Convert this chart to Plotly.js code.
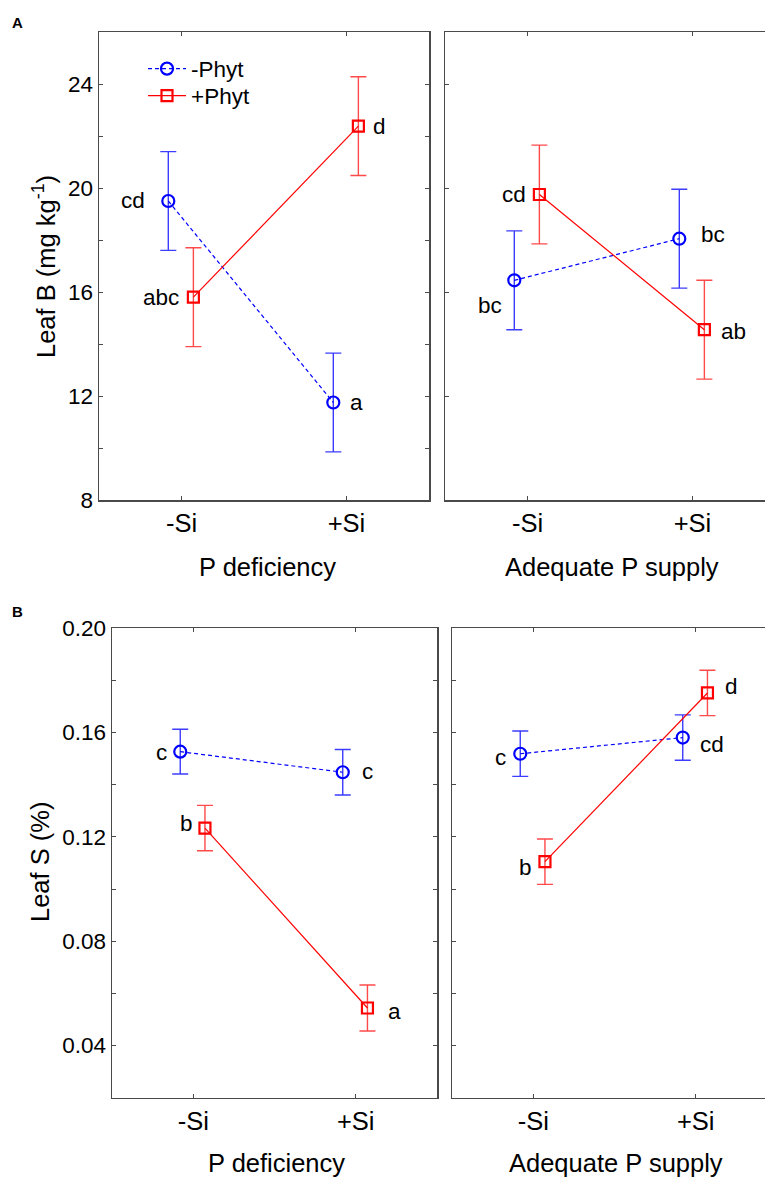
<!DOCTYPE html>
<html>
<head>
<meta charset="utf-8">
<script src="https://cdn.plot.ly/plotly-3.0.1.min.js"></script>
<style>html,body{margin:0;padding:0;background:#fff;}#chart{width:765px;height:1177px;}</style>
</head>
<body>
<div id="chart"></div>
<script>
// ---------------- DATA ----------------
const xCats = ['-Si', '+Si'];
const xIdx = [1, 2];
const seriesNames = ['-Phyt', '+Phyt'];
const panelNames = ['P deficiency', 'Adequate P supply'];

// Panel A: Leaf B (mg kg-1)
const bDefNoPhyt = [19.5, 11.75];
const bDefNoPhytErr = [1.9, 1.9];
const bDefPhyt = [15.8, 22.38];
const bDefPhytErr = [1.9, 1.9];
const bAdqNoPhyt = [16.45, 18.05];
const bAdqNoPhytErr = [1.9, 1.9];
const bAdqPhyt = [19.75, 14.55];
const bAdqPhytErr = [1.9, 1.9];
const bDefNoPhytLet = ['cd', 'a'];
const bDefPhytLet = ['abc', 'd'];
const bAdqNoPhytLet = ['bc', 'bc'];
const bAdqPhytLet = ['cd', 'ab'];

// Panel B: Leaf S (%)
const sDefNoPhyt = [0.1527, 0.1448];
const sDefNoPhytErr = [0.0086, 0.0087];
const sDefPhyt = [0.1234, 0.0544];
const sDefPhytErr = [0.0087, 0.0088];
const sAdqNoPhyt = [0.1519, 0.1581];
const sAdqNoPhytErr = [0.0087, 0.0087];
const sAdqPhyt = [0.1105, 0.1752];
const sAdqPhytErr = [0.0087, 0.0087];
const sDefNoPhytLet = ['c', 'c'];
const sDefPhytLet = ['b', 'a'];
const sAdqNoPhytLet = ['c', 'cd'];
const sAdqPhytLet = ['b', 'd'];

// ---------------- STYLE ----------------
const FONT = 'Arial, "Liberation Sans", sans-serif';
const BLUE = '#0000ff', RED = '#ff0000';
const BLUE_ERR = '#3c3cff', RED_ERR = '#ff4a4a';
const OFF_BLUE = -0.08, OFF_RED = 0.072;
const FRAME = '#4a4a4a';

function tr(vals, errs, isRed, xa, ya, legendId) {
  const off = isRed ? OFF_RED : OFF_BLUE;
  const t = {
    type: 'scatter', mode: 'lines+markers',
    name: isRed ? seriesNames[1] : seriesNames[0],
    showlegend: !!legendId,
    x: xIdx.map(v => v + off), y: vals,
    xaxis: xa, yaxis: ya,
    line: isRed ? {color: RED, width: 1.2} : {color: BLUE, width: 1.2, dash: '4px,3px'},
    marker: isRed
      ? {symbol: 'square-open', size: 11, color: RED, line: {width: 2.2, color: RED}}
      : {symbol: 'circle-open', size: 12, color: BLUE, line: {width: 2.2, color: BLUE}},
    error_y: {type: 'data', array: errs, visible: true, color: isRed ? RED_ERR : BLUE_ERR, thickness: 1.4, width: 8}
  };
  if (legendId) t.legend = legendId;
  return t;
}

const data = [
  tr(bDefNoPhyt, bDefNoPhytErr, false, 'x', 'y', 'legend'),
  tr(bDefPhyt, bDefPhytErr, true, 'x', 'y', 'legend2'),
  tr(bAdqNoPhyt, bAdqNoPhytErr, false, 'x2', 'y2', null),
  tr(bAdqPhyt, bAdqPhytErr, true, 'x2', 'y2', null),
  tr(sDefNoPhyt, sDefNoPhytErr, false, 'x3', 'y3', null),
  tr(sDefPhyt, sDefPhytErr, true, 'x3', 'y3', null),
  tr(sAdqNoPhyt, sAdqNoPhytErr, false, 'x4', 'y4', null),
  tr(sAdqPhyt, sAdqPhytErr, true, 'x4', 'y4', null)
];

const W = 765, H = 1177;
const px = v => v / W, py = v => 1 - v / H;

function xax(domL, domR, rangeR, anchor) {
  return {
    domain: [px(domL), Math.min(1, px(domR))], range: [0.5, rangeR], anchor: anchor,
    tickvals: xIdx, ticktext: xCats, ticks: 'inside', ticklen: 4, tickcolor: FRAME,
    showline: true, linecolor: FRAME, linewidth: 1.5, mirror: 'ticks',
    showgrid: false, zeroline: false, fixedrange: true,
    tickfont: {family: FONT, size: 25.5, color: '#000'}
  };
}
function yax(top, bot, range, tickvals, minorDtick, showLabels, anchor, mirror, fmt) {
  const a = {
    domain: [py(bot), py(top)], range: range, anchor: anchor,
    tickvals: tickvals, ticks: 'inside', ticklen: 4, tickcolor: FRAME,
    showticklabels: showLabels, tickformat: fmt,
    showline: true, linecolor: FRAME, linewidth: 1.5, mirror: mirror,
    showgrid: false, zeroline: false, fixedrange: true,
    tickfont: {family: FONT, size: 22.5, color: '#000'}
  };
  if (minorDtick) a.minor = {dtick: minorDtick, tick0: range[0], ticks: 'inside', ticklen: 4, tickcolor: FRAME, showgrid: false};
  return a;
}

const legendStyle = (yPix) => ({
  x: px(143), y: py(yPix), xanchor: 'left', yanchor: 'middle',
  bgcolor: 'rgba(0,0,0,0)', borderwidth: 0, itemwidth: 38,
  font: {family: FONT, size: 22.5, color: '#000'}
});

const layout = {
  width: W, height: H,
  margin: {l: 0, r: 0, t: 0, b: 0},
  paper_bgcolor: '#fff', plot_bgcolor: '#fff',
  showlegend: true,
  legend: legendStyle(69),
  legend2: legendStyle(96),
  xaxis: xax(99, 429, 2.5, 'y'),
  yaxis: yax(32, 500, [8, 26], [8, 12, 16, 20, 24], 2, true, 'x', 'ticks', 'd'),
  xaxis2: xax(445, 775, 0.5 + 320 / 165, 'y2'),
  yaxis2: yax(32, 500, [8, 26], [8, 12, 16, 20, 24], null, false, 'x2', false, 'd'),
  xaxis3: xax(112, 437, 2.5, 'y3'),
  yaxis3: yax(628.3, 1097.7, [0.02, 0.20], [0.04, 0.08, 0.12, 0.16, 0.20], 0.02, true, 'x3', 'ticks', '.2f'),
  xaxis4: xax(452, 777, 0.5 + 313 / 162.5, 'y4'),
  yaxis4: yax(628.3, 1097.7, [0.02, 0.20], [0.04, 0.08, 0.12, 0.16, 0.20], 0.02, false, 'x4', false, '.2f'),
  annotations: []
};

// letter labels: [letters, values, isRed, xref, yref, xshifts, yshifts]
const labelSets = [
  [bDefNoPhytLet, bDefNoPhyt, false, 'x', 'y', [-22, 16], [0, 0]],
  [bDefPhytLet, bDefPhyt, true, 'x', 'y', [-13, 14], [0, 0]],
  [bAdqNoPhytLet, bAdqNoPhyt, false, 'x2', 'y2', [-11, 21], [-25, 4]],
  [bAdqPhytLet, bAdqPhyt, true, 'x2', 'y2', [-12, 16], [0, -2]],
  [sDefNoPhytLet, sDefNoPhyt, false, 'x3', 'y3', [-12, 18], [-1, 1]],
  [sDefPhytLet, sDefPhyt, true, 'x3', 'y3', [-11, 20], [5, -4]],
  [sAdqNoPhytLet, sAdqNoPhyt, false, 'x4', 'y4', [-13, 16], [-4, -7]],
  [sAdqPhytLet, sAdqPhyt, true, 'x4', 'y4', [-12, 17], [-6, 6]]
];
labelSets.forEach(([lets, vals, isRed, xr, yr, xs, ys]) => {
  const off = isRed ? OFF_RED : OFF_BLUE;
  lets.forEach((t, i) => {
    layout.annotations.push({
      text: t, x: xIdx[i] + off, y: vals[i], xref: xr, yref: yr,
      xanchor: xs[i] < 0 ? 'right' : 'left', yanchor: 'middle',
      xshift: xs[i], yshift: ys[i], showarrow: false, borderpad: 0,
      font: {family: FONT, size: 22.5, color: '#000'}
    });
  });
});

function paperText(t, x, y, size, angle, bold) {
  layout.annotations.push({
    text: bold ? '<b>' + t + '</b>' : t, xref: 'paper', yref: 'paper',
    x: px(x), y: py(y), xanchor: 'center', yanchor: 'middle',
    showarrow: false, textangle: angle || 0,
    font: {family: FONT, size: size, color: '#000'}
  });
}
paperText('A', 17, 22, 15, 0, true);
paperText('B', 17, 611, 15, 0, true);
paperText('Leaf B (mg kg<sup>-1</sup>)', 44, 267, 25.5, -90);
paperText('Leaf S (%)', 40, 862, 25.5, -90);
paperText(panelNames[0], 267, 567, 25.5);
paperText(panelNames[1], 612, 567, 25.5);
paperText(panelNames[0], 276, 1163, 25.5);
paperText(panelNames[1], 616, 1163, 25.5);

Plotly.newPlot('chart', data, layout, {staticPlot: true, displayModeBar: false});
</script>
</body>
</html>
